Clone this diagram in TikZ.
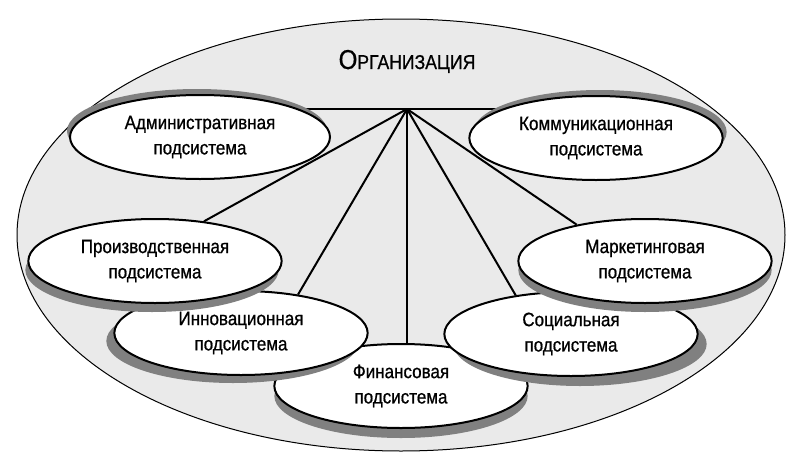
\documentclass[tikz,border=0pt]{standalone}
\usepackage{fontspec}
\setmainfont[FakeStretch=0.88, FakeBold=0.8]{Liberation Sans}
\usepackage{tikz}
\usetikzlibrary{shapes.geometric,shadows,backgrounds,calc}

\definecolor{orgfill}{HTML}{EAEAEA}
\definecolor{shadowgray}{HTML}{808080}

\begin{document}
\begin{tikzpicture}[
    x=0.75pt, y=-0.75pt,
    org/.style={ellipse, draw=black, line width=0.75pt, fill=orgfill, minimum width=576pt, minimum height=324pt, inner sep=0pt},
    subsys/.style={ellipse, draw=black, line width=1.5pt, fill=white, minimum width=190pt, minimum height=63pt, inner sep=0pt, align=center, font=\fontsize{14.5pt}{19pt}\selectfont},
    sh/.style 2 args={drop shadow={shadow xshift=#1, shadow yshift=#2, opacity=1, fill=shadowgray}},
    link/.style={line width=1.5pt}
]
    \useasboundingbox (0,0) rectangle (803,471);

    % Subsystems (back to front)
    \node[subsys, sh={0pt}{-7.5pt}] (fin) at (401,386) {Финансовая\\подсистема};
    \node[subsys, sh={-6pt}{-6pt}] (inn) at (241,333) {Инновационная\\подсистема};
    \node[subsys, sh={6.75pt}{-7.5pt}] (soc) at (571,334) {Социальная\\подсистема};
    \node[subsys, sh={-2.25pt}{-6.75pt}] (prod) at (155,261) {Производственная\\подсистема};
    \node[subsys, sh={0pt}{-6.75pt}] (mark) at (645,261) {Маркетинговая\\подсистема};
    \node[subsys, sh={-2.25pt}{4.5pt}, minimum width=195pt] (adm) at (200,137) {Административная\\подсистема};
    \node[subsys, sh={3pt}{4.5pt}] (komm) at (596,138) {Коммуникационная\\подсистема};

    % Hub
    \coordinate (hub) at (407,109);

    \begin{scope}[on background layer]
        % Organisation
        \node[org] (orgn) at (401,235) {};
        % Links
        \draw[link] (hub -| adm) -- (hub -| komm);
        \draw[link] (hub) -- (prod.39);
        \draw[link] (hub) -- (inn.34);
        \draw[link] (hub) -- (hub |- fin.north);
        \draw[link] (hub) -- (soc.145);
        \draw[link] (hub) -- (mark.152);
    \end{scope}

    % Title
    \node[anchor=base, inner sep=0pt] (title) at (407,69) {\fontsize{20.5pt}{24pt}\selectfont О\fontsize{15pt}{18pt}\selectfont РГАНИЗАЦИЯ};
\end{tikzpicture}
\end{document}
